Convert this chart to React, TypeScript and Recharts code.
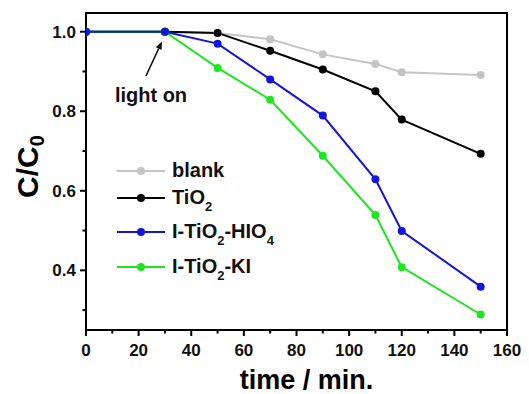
import React from 'react';
import { LineChart, Line, XAxis, YAxis, ReferenceArea, ReferenceLine, Legend } from 'recharts';

const times = [0, 30, 50, 70, 90, 110, 120, 150];
const blank = [1.0, 1.0, 0.997, 0.981, 0.943, 0.919, 0.898, 0.891];
const tio2 = [1.0, 1.0, 0.997, 0.952, 0.905, 0.85, 0.779, 0.693];
const hio4 = [1.0, 1.0, 0.97, 0.88, 0.789, 0.629, 0.499, 0.359];
const ki = [1.0, 1.0, 0.909, 0.829, 0.688, 0.539, 0.408, 0.289];

const xTicks = [0, 10, 20, 30, 40, 50, 60, 70, 80, 90, 100, 110, 120, 130, 140, 150, 160];
const yTicks = [0.3, 0.4, 0.5, 0.6, 0.7, 0.8, 0.9, 1.0];
const xDomain = [0, 160];
const yDomain = [0.25, 1.047];

const arrowFrom = { x: 22.8, y: 0.889 };
const arrowTo = { x: 28.9, y: 0.9755 };
const annotationText = 'light on';

const data = times.map((t, i) => ({ t, blank: blank[i], tio2: tio2[i], hio4: hio4[i], ki: ki[i] }));

const FONT = '"Liberation Sans", Arial, sans-serif';

const GREY = '#c4c4c4';
const BLACK = '#000000';
const BLUE = '#1414dc';
const GREEN = '#1ee61e';

const XTick = (props: any) => {
  const { x, y, payload } = props;
  const v = payload.value;
  const major = Math.round(v) % 20 === 0;
  return (
    <g>
      <line x1={x} x2={x} y1={y} y2={y + (major ? 6 : 3.5)} stroke="#000" strokeWidth={2} />
      {major && (
        <text x={x} y={y + 26} textAnchor="middle" fontSize={17} fontWeight="bold" fill="#111" fontFamily={FONT}>
          {v}
        </text>
      )}
    </g>
  );
};

const YTick = (props: any) => {
  const { x, y, payload } = props;
  const v = payload.value;
  const major = Math.round(v * 10) % 2 === 0;
  return (
    <g>
      <line x1={x} x2={x - (major ? 6 : 3.5)} y1={y} y2={y} stroke="#000" strokeWidth={2} />
      {major && (
        <text x={x - 10} y={y + 6} textAnchor="end" fontSize={17} fontWeight="bold" fill="#111" fontFamily={FONT}>
          {v.toFixed(1)}
        </text>
      )}
    </g>
  );
};

const ArrowShape = (props: any) => {
  const { x1, y1, x2, y2 } = props;
  const dx = x2 - x1;
  const dy = y2 - y1;
  const len = Math.sqrt(dx * dx + dy * dy) || 1;
  const ux = dx / len;
  const uy = dy / len;
  const hl = 8;
  const hw = 3.2;
  const bx = x2 - ux * hl;
  const by = y2 - uy * hl;
  const p1 = `${x2},${y2}`;
  const p2 = `${bx - uy * hw},${by + ux * hw}`;
  const p3 = `${bx + uy * hw},${by - ux * hw}`;
  return (
    <g>
      <line x1={x1} y1={y1} x2={bx} y2={by} stroke="#111" strokeWidth={1.5} />
      <polygon points={`${p1} ${p2} ${p3}`} fill="#111" />
      <text x={x1 + 5} y={y1 + 26} textAnchor="middle" fontSize={20} fontWeight="bold" fill="#111" fontFamily={FONT}>
        {annotationText}
      </text>
    </g>
  );
};

const legendItems = [
  { name: 'blank', color: GREY, parts: [['blank', false]] as [string, boolean][], y: 13 },
  { name: 'TiO2', color: BLACK, parts: [['TiO', false], ['2', true]] as [string, boolean][], y: 40 },
  { name: 'I-TiO2-HIO4', color: BLUE, parts: [['I-TiO', false], ['2', true], ['-HIO', false], ['4', true]] as [string, boolean][], y: 74 },
  { name: 'I-TiO2-KI', color: GREEN, parts: [['I-TiO', false], ['2', true], ['-KI', false]] as [string, boolean][], y: 109 },
];

const LegendContent = () => (
  <svg width={230} height={130} style={{ overflow: 'visible' }}>
    {legendItems.map((it) => (
      <g key={it.name}>
        <line x1={7} x2={55} y1={it.y} y2={it.y} stroke={it.color} strokeWidth={2} />
        <circle cx={31} cy={it.y} r={4} fill={it.color} />
        <text x={62} y={it.y + 6} fontSize={20} fontWeight="bold" fill="#111" fontFamily={FONT}>
          {it.parts.map(([s, sub], j) => {
            const prevSub = j > 0 && it.parts[j - 1][1];
            const dy = sub ? 7 : prevSub ? -7 : 0;
            return (
              <tspan key={j} dy={dy} fontSize={sub ? 13 : 20}>
                {s}
              </tspan>
            );
          })}
        </text>
      </g>
    ))}
  </svg>
);

const XLabel = (props: any) => {
  const { viewBox } = props;
  const cx = viewBox.x + viewBox.width / 2 + 10;
  return (
    <text x={cx} y={389} textAnchor="middle" fontSize={27} fontWeight="bold" fill="#000" fontFamily={FONT}>
      time / min.
    </text>
  );
};

const YLabel = (props: any) => {
  const { viewBox } = props;
  const cy = viewBox.y + viewBox.height / 2 - 5;
  return (
    <text transform={`translate(38,${cy}) rotate(-90)`} textAnchor="middle" fontSize={30} fontWeight="bold" fill="#000" fontFamily={FONT}>
      C/C
      <tspan dy={6} fontSize={20}>0</tspan>
    </text>
  );
};

export default function App() {
  return (
    <div style={{ position: 'absolute', left: 0, top: 0, width: 529, height: 394, background: '#fff' }}>
      <LineChart width={529} height={394} data={data} margin={{ top: 13, right: 22, left: 0, bottom: 0 }}>
        <XAxis
          dataKey="t"
          type="number"
          domain={xDomain}
          ticks={xTicks}
          interval={0}
          allowDataOverflow
          height={64}
          tickSize={0}
          tickMargin={0}
          tick={<XTick />}
          axisLine={{ stroke: '#000', strokeWidth: 2 }}
          label={<XLabel />}
        />
        <YAxis
          type="number"
          domain={yDomain}
          ticks={yTicks}
          interval={0}
          allowDataOverflow
          width={86}
          tickSize={0}
          tickMargin={0}
          tick={<YTick />}
          axisLine={{ stroke: '#000', strokeWidth: 2 }}
          label={<YLabel />}
        />
        <ReferenceArea x1={xDomain[0]} x2={xDomain[1]} y1={yDomain[0]} y2={yDomain[1]} fill="none" stroke="#000" strokeWidth={2} ifOverflow="visible" />
        <ReferenceLine segment={[arrowFrom, arrowTo]} shape={<ArrowShape />} ifOverflow="visible" />
        <Line dataKey="blank" stroke={GREY} strokeWidth={2} dot={{ r: 4, fill: GREY, stroke: GREY, strokeWidth: 0 }} isAnimationActive={false} />
        <Line dataKey="tio2" stroke={BLACK} strokeWidth={2} dot={{ r: 4, fill: BLACK, stroke: BLACK, strokeWidth: 0 }} isAnimationActive={false} />
        <Line dataKey="ki" stroke={GREEN} strokeWidth={2} dot={{ r: 4, fill: GREEN, stroke: GREEN, strokeWidth: 0 }} isAnimationActive={false} />
        <Line dataKey="hio4" stroke={BLUE} strokeWidth={2} dot={{ r: 4, fill: BLUE, stroke: BLUE, strokeWidth: 0 }} isAnimationActive={false} />
        <Legend
          layout="horizontal"
          verticalAlign="middle"
          align="center"
          content={<LegendContent />}
          wrapperStyle={{ position: 'absolute', left: 110, top: 158, width: 230, height: 130 }}
        />
      </LineChart>
    </div>
  );
}
